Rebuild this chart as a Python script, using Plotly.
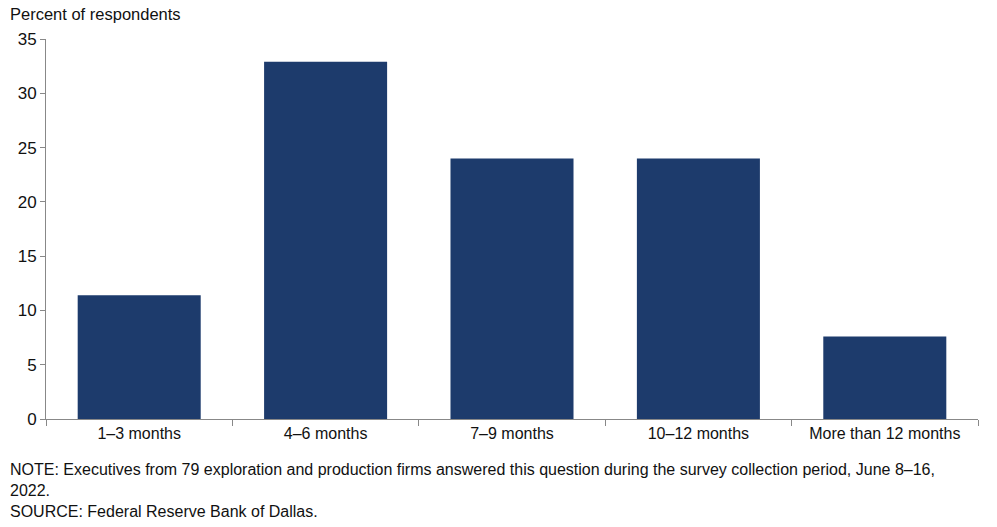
import plotly.graph_objects as go

categories = ["1–3 months", "4–6 months", "7–9 months", "10–12 months", "More than 12 months"]
values = [11.4, 32.9, 24.0, 24.0, 7.6]
y_ticks = [0, 5, 10, 15, 20, 25, 30, 35]

W, H = 997, 527
L, R, T, B = 46, 19, 39, 108
ph = H - T - B
pw = W - L - R

fig = go.Figure(go.Bar(x=categories, y=values, marker=dict(color="#1d3b6c", line=dict(width=0)),
                       width=0.66))

font = "Liberation Sans, Arial, sans-serif"
fig.update_layout(
    width=W, height=H,
    margin=dict(l=L, r=R, t=T, b=B),
    paper_bgcolor="white", plot_bgcolor="white",
    showlegend=False,
    font=dict(family=font, size=16, color="#222222"),
    xaxis=dict(showline=True, linecolor="#888888", linewidth=1, ticks="outside", tickson="boundaries",
               ticklen=6, tickcolor="#888888", showgrid=False, tickfont=dict(size=16, color="#111111")),
    yaxis=dict(range=[0, 35], tickvals=y_ticks, showline=True, linecolor="#888888", linewidth=1,
               ticks="outside", ticklen=5, tickcolor="#888888", showgrid=False, zeroline=False,
               tickfont=dict(size=17, color="#111111")),
    annotations=[
        dict(text="Percent of respondents", xref="paper", yref="paper", x=(8 - L) / pw, y=(H - B - 14) / ph,
             xanchor="left", yanchor="middle", showarrow=False, font=dict(size=16.5, color="#111111")),
        dict(text="NOTE: Executives from 79 exploration and production firms answered this question during the survey collection period, June 8–16,<br>2022.<br>SOURCE: Federal Reserve Bank of Dallas.",
             xref="paper", yref="paper", x=(8 - L) / pw, y=(H - B - 459) / ph, xanchor="left", yanchor="top",
             align="left", showarrow=False, font=dict(size=16, color="#111111")),
    ],
)

fig.write_html("out.html", config={"displayModeBar": False},
               post_script="document.body.style.margin='0';document.body.style.overflow='hidden';")
